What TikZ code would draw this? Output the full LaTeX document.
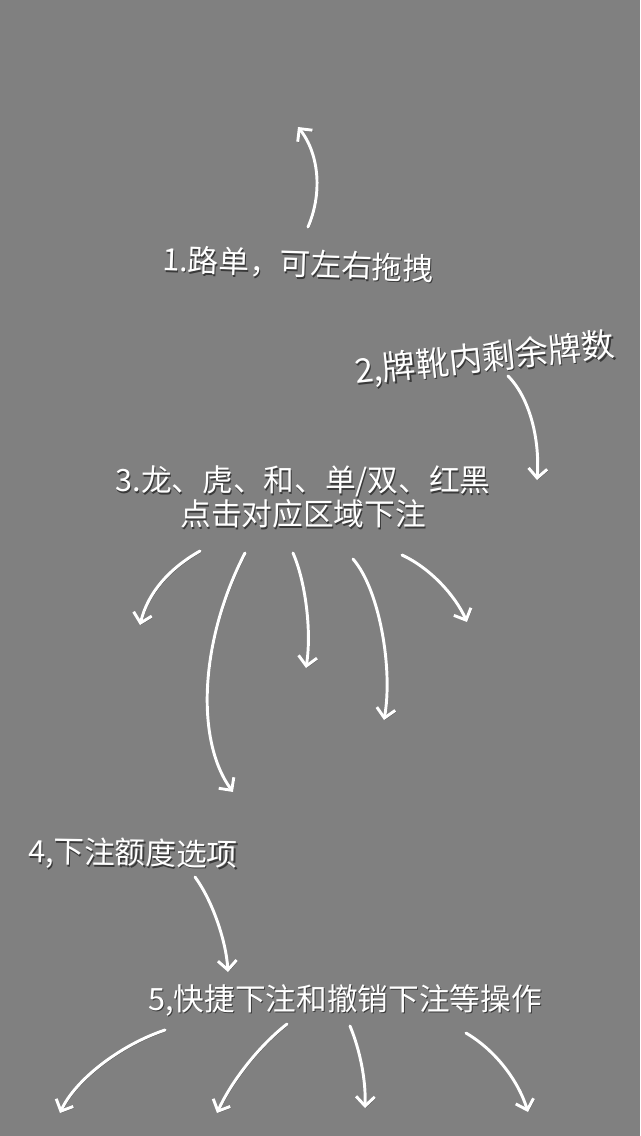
\documentclass[tikz,border=0pt]{standalone}
\usepackage{fontspec}
\newfontfamily\cjk{Noto Sans CJK SC}
\usetikzlibrary{arrows.meta}
\definecolor{bg}{HTML}{808080}
\definecolor{shd}{HTML}{3A3A3A}
\newcommand\shtxt[1]{\rlap{\hspace{0.9pt}\raisebox{-1.2pt}{\textcolor{shd}{#1}}}\textcolor{white}{#1}}
\begin{document}
\begin{tikzpicture}[x=0.75pt,y=-0.75pt,
  lbl/.style={font=\cjk\fontsize{23}{21}\selectfont, text=white, inner sep=0pt, align=center},
  big/.style={font=\cjk\fontsize{25}{25}\selectfont},
  arr/.style={draw=white, line width=2.2pt, line cap=round,
    -{Straight Barb[length=7pt,width=14pt]},
    preaction={draw=shd, opacity=0.55, transform canvas={shift={(0.8pt,-1pt)}}}}]
\fill[bg] (0,0) rectangle (640,1136);
\useasboundingbox (0,0) rectangle (640,1136);

% labels
\node[lbl, rotate=-2] (n1) at (298,265) {\shtxt{1.路单，可左右拖拽}};
\node[lbl, big, rotate=6] (n2) at (485,360) {\shtxt{2,牌靴内剩余牌数}};
\node[lbl] (n3) at (303,498) {\shtxt{3.龙、虎、和、单/双、红黑}\\\shtxt{点击对应区域下注}};
\node[lbl, rotate=-1] (n4) at (133,855) {\shtxt{4,下注额度选项}};
\node[lbl] (n5) at (345,1001) {\shtxt{5,快捷下注和撤销下注等操作}};

% arrow end points
\coordinate (a0s) at (308,227);  \coordinate (a0e) at (298,127);
\coordinate (b0s) at (508,376);  \coordinate (b0e) at (537,480);
\coordinate (a1s) at (200,551);  \coordinate (a1e) at (140,625);
\coordinate (a2s) at (245,553);  \coordinate (a2e) at (233,792);
\coordinate (a3s) at (293,553);  \coordinate (a3e) at (306,668);
\coordinate (a4s) at (353,559);  \coordinate (a4e) at (384,720);
\coordinate (a5s) at (402,555);  \coordinate (a5e) at (467,622);
\coordinate (b1s) at (195,877);  \coordinate (b1e) at (228,972);
\coordinate (c1s) at (165,1030); \coordinate (c1e) at (60,1113);
\coordinate (c2s) at (287,1024); \coordinate (c2e) at (217,1113);
\coordinate (c3s) at (350,1026); \coordinate (c3e) at (365,1108);
\coordinate (c4s) at (466,1033); \coordinate (c4e) at (528,1112);

% arrows
\draw[arr] (a0s) .. controls (322,195) and (320,155) .. (a0e);
\draw[arr] (b0s) .. controls (530,398) and (540,440) .. (b0e);
\draw[arr] (a1s) .. controls (170,568) and (148,592) .. (a1e);
\draw[arr] (a2s) .. controls (200,640) and (195,740) .. (a2e);
\draw[arr] (a3s) .. controls (305,580) and (312,630) .. (a3e);
\draw[arr] (a4s) .. controls (380,590) and (393,670) .. (a4e);
\draw[arr] (a5s) .. controls (430,568) and (455,595) .. (a5e);
\draw[arr] (b1s) .. controls (212,900) and (226,940) .. (b1e);
\draw[arr] (c1s) .. controls (120,1045) and (75,1080) .. (c1e);
\draw[arr] (c2s) .. controls (260,1045) and (232,1080) .. (c2e);
\draw[arr] (c3s) .. controls (360,1050) and (366,1080) .. (c3e);
\draw[arr] (c4s) .. controls (495,1050) and (518,1080) .. (c4e);
\end{tikzpicture}
\end{document}
